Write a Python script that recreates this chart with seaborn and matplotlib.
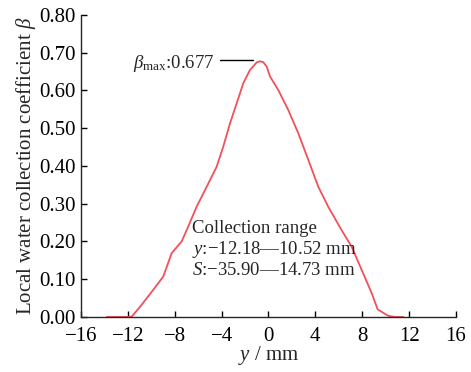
import numpy as np
import pandas as pd
import matplotlib
import matplotlib.pyplot as plt
import seaborn as sns

matplotlib.use('Agg')

# local water collection coefficient
y_mm = [-13.8, -12.0, -11.67, -10.96, -9.83, -8.98, -8.26, -7.41, -6.98, -6.13,
        -5.27, -4.42, -3.86, -3.28, -2.71, -2.15, -1.58, -1.01, -0.73, -0.45,
        -0.15, 0.13, 0.84, 1.69, 2.54, 3.40, 4.25, 5.10, 6.24, 7.10,
        7.95, 8.81, 9.32, 10.22, 10.8, 11.5]
beta = [0.0, 0.0, 0.001, 0.027, 0.072, 0.107, 0.169, 0.200, 0.230, 0.292,
        0.345, 0.398, 0.451, 0.513, 0.566, 0.619, 0.654, 0.674, 0.677, 0.675,
        0.663, 0.637, 0.601, 0.548, 0.487, 0.416, 0.345, 0.292, 0.230, 0.186,
        0.125, 0.063, 0.020, 0.003, 0.0, 0.0]
df = pd.DataFrame({'y': y_mm, 'beta': beta})

x_ticks = [-16, -12, -8, -4, 0, 4, 8, 12, 16]
y_ticks = [0.0, 0.1, 0.2, 0.3, 0.4, 0.5, 0.6, 0.7, 0.8]

sns.set_style('ticks')
plt.rcParams['font.family'] = ['Liberation Serif', 'DejaVu Serif']
plt.rcParams['mathtext.fontset'] = 'custom'
plt.rcParams['mathtext.rm'] = 'Liberation Serif'
plt.rcParams['mathtext.it'] = 'Liberation Serif:italic'
fs = 15
fs_note = 13.5

fig = plt.figure(figsize=(4.71, 3.72), dpi=100)
ax = fig.add_axes([0.172, 0.148, 0.796, 0.812])

sns.lineplot(data=df, x='y', y='beta', ax=ax, color='#f2505a', linewidth=1.3)

ax.set_xlim(-16, 16)
ax.set_ylim(0, 0.8)
ax.set_xticks(x_ticks)
ax.set_yticks(y_ticks)
ax.set_xticklabels(['\u2212' + str(-t) if t < 0 else str(t) for t in x_ticks])
ax.set_yticklabels(['%.2f' % t for t in y_ticks])
ax.tick_params(direction='in', length=4, width=1, colors='black', labelsize=fs)
ax.tick_params(axis='x', pad=7)
ax.tick_params(axis='y', pad=4)
for s in ['top', 'right']:
    ax.spines[s].set_visible(False)
for s in ['left', 'bottom']:
    ax.spines[s].set_linewidth(1)

ax.set_xlabel('$y$ / mm', fontsize=fs, labelpad=-1)
ax.set_ylabel('Local water collection coefficient $\\beta$', fontsize=fs, labelpad=1)

# peak annotation
ax.plot([-4.12, -1.32], [0.681, 0.681], color='black', linewidth=1)
ax.text(-4.6, 0.672, '$\\beta_{\\rm max}$:0.677', ha='right', va='center', fontsize=fs_note)

ax.text(-6.5, 0.233, 'Collection range', ha='left', va='center', fontsize=fs_note)
ax.text(-6.5, 0.178, '$y$:\u221212.18\u201410.52 mm', ha='left', va='center', fontsize=fs_note)
ax.text(-6.5, 0.123, '$S$:\u221235.90\u201414.73 mm', ha='left', va='center', fontsize=fs_note)

plt.savefig('out.png', dpi=100)
